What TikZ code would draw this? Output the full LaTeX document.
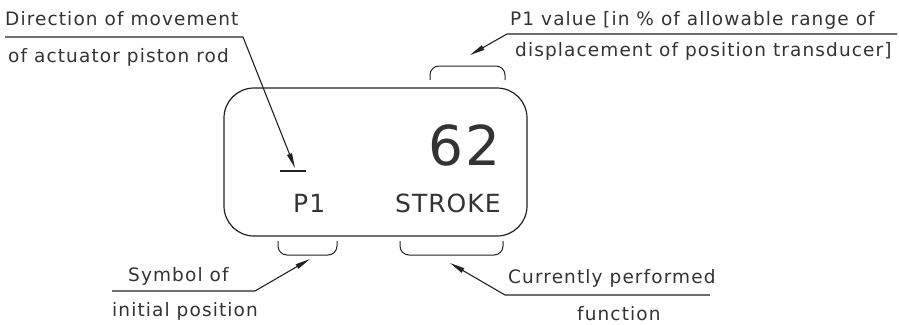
\documentclass[tikz,border=0pt]{standalone}
\usepackage{fontspec}
\setmainfont{DejaVu Sans}[LetterSpace=6]
\newfontfamily\dispfont{DejaVu Sans}[LetterSpace=4]
\usetikzlibrary{arrows.meta}
\definecolor{ink}{HTML}{222222}
\definecolor{txt}{HTML}{333333}
\begin{document}
\begin{tikzpicture}[x=1pt,y=-1pt,
  lbl/.style={anchor=base west,inner sep=0pt,text=txt,font=\fontsize{18.5}{21}\selectfont},
  disp/.style={inner sep=0pt,text=txt,font=\dispfont\fontsize{25}{28}\selectfont},
  wire/.style={draw=ink,line width=1.1pt},
  lead/.style={wire,-{Triangle[length=15pt,width=5pt]}},
  brace/.style={draw=ink,line width=1pt,rounded corners=9pt}]
\useasboundingbox (0,0) rectangle (899,324);
% display
\draw[draw=ink,line width=1.2pt,rounded corners=30pt] (224,88) rectangle (527,236);
\node[disp,anchor=base east,font=\dispfont\fontsize{55}{60}\selectfont] (val) at (501,165) {62};
\node[disp,anchor=base west] (p1) at (293,212) {P1};
\node[disp,anchor=base west] (stroke) at (395,212) {STROKE};
\coordinate (barL) at (280,171); \coordinate (barR) at (306,171);
\draw[wire] (barL) -- (barR);
% braces
\draw[brace] (430,80) -- (430,66) -- (505,66) -- (505,80);
\draw[brace] (278,241) -- (278,255) -- (337,255) -- (337,241);
\draw[brace] (400,241) -- (400,255) -- (503,255) -- (503,241);
% labels
\node[lbl] (t1) at (5,25) {Direction of movement};
\node[lbl] (t2) at (8,62) {of actuator piston rod};
\node[lbl] (t3) at (510,25) {P1 value [in \% of allowable range of};
\node[lbl] (t4) at (515,56) {displacement of position transducer]};
\node[lbl] (t5) at (128,281) {Symbol of};
\node[lbl] (t6) at (112,316) {initial position};
\node[lbl] (t7) at (508,283) {Currently performed};
\node[lbl] (t8) at (577,320) {function};
% leaders
\coordinate (a1s) at (5,37); \coordinate (a1k) at (243,37); \coordinate (a1t) at (295,168);
\draw[lead] (a1s) -- (a1k) -- (a1t);
\coordinate (a2s) at (897,34); \coordinate (a2k) at (507,34); \coordinate (a2t) at (470,55);
\draw[lead] (a2s) -- (a2k) -- (a2t);
\coordinate (a3s) at (112,291); \coordinate (a3k) at (255,291); \coordinate (a3t) at (310,259);
\draw[lead] (a3s) -- (a3k) -- (a3t);
\coordinate (a4s) at (710,295); \coordinate (a4k) at (505,295); \coordinate (a4t) at (450,263);
\draw[lead] (a4s) -- (a4k) -- (a4t);
\end{tikzpicture}
\end{document}
